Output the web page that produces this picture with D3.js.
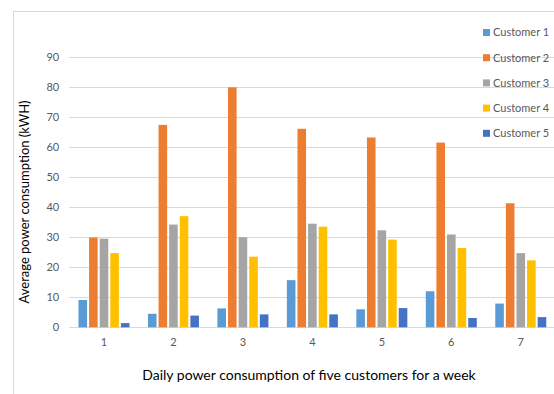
<!DOCTYPE html>
<html>
<head>
<meta charset="utf-8">
<script src="https://cdn.jsdelivr.net/npm/d3@7"></script>
<style>
  html, body { margin: 0; padding: 0; background: #fff; }
  svg { display: block; }
  text { font-family: Lato, "Open Sans", sans-serif; }
</style>
</head>
<body>
<svg id="chart" width="554" height="394"></svg>
<script>
// Days of the week and average daily consumption (kWH) per customer
const days = ["1", "2", "3", "4", "5", "6", "7"];
const customers = ["Customer 1", "Customer 2", "Customer 3", "Customer 4", "Customer 5"];
const customer1 = [9.1, 4.5, 6.3, 15.7, 6.0, 12.0, 7.9];
const customer2 = [29.9, 67.4, 79.9, 66.1, 63.2, 61.5, 41.3];
const customer3 = [29.5, 34.2, 30.0, 34.5, 32.3, 30.9, 24.7];
const customer4 = [24.7, 37.0, 23.5, 33.5, 29.2, 26.4, 22.3];
const customer5 = [1.4, 3.9, 4.3, 4.3, 6.4, 3.1, 3.4];
const yTicks = [0, 10, 20, 30, 40, 50, 60, 70, 80, 90];
const colors = ["#5B9BD5", "#ED7D31", "#A5A5A5", "#FFC000", "#4472C4"];

const series = [customer1, customer2, customer3, customer4, customer5];

const svg = d3.select("#chart");

// chart area frame
svg.append("rect")
  .attr("x", 13.5).attr("y", 11.5)
  .attr("width", 600).attr("height", 450)
  .attr("fill", "#fff").attr("stroke", "#d9d9d9").attr("stroke-width", 1);

const plot = { left: 69.25, right: 555.5, top: 57, bottom: 327.3 };

const x0 = d3.scaleBand().domain(days).range([plot.left, plot.right]).padding(0);
const x1 = d3.scaleBand().domain(customers).range([0, x0.bandwidth()])
  .paddingInner(0.19).paddingOuter(0.87);
const y = d3.scaleLinear().domain([0, 90]).range([plot.bottom, plot.top]);

// horizontal gridlines
svg.append("g").selectAll("line").data(yTicks).join("line")
  .attr("x1", plot.left).attr("x2", plot.right)
  .attr("y1", d => Math.round(y(d)) + 0.5).attr("y2", d => Math.round(y(d)) + 0.5)
  .attr("stroke", "#d9d9d9").attr("stroke-width", 1);

// y axis tick labels
const yAxis = d3.axisLeft(y).tickValues(yTicks).tickSize(0).tickPadding(10);
svg.append("g").attr("transform", `translate(${plot.left},0)`).call(yAxis)
  .call(g => g.select(".domain").remove())
  .call(g => g.selectAll("text").attr("fill", "#595959")
    .style("font-size", "11px").style("font-family", "Lato, 'Open Sans', sans-serif"));

// x axis tick labels
const xAxis = d3.axisBottom(x0).tickSize(0).tickPadding(11);
svg.append("g").attr("transform", `translate(0,${plot.bottom})`).call(xAxis)
  .call(g => g.select(".domain").remove())
  .call(g => g.selectAll("text").attr("fill", "#595959")
    .style("font-size", "11px").style("font-family", "Lato, 'Open Sans', sans-serif"));

// grouped bars
const groups = svg.append("g").selectAll("g").data(days).join("g")
  .attr("transform", d => `translate(${x0(d)},0)`);

groups.selectAll("rect")
  .data((d, i) => customers.map((c, k) => ({ c, k, v: series[k][i] })))
  .join("rect")
  .attr("x", d => x1(d.c))
  .attr("width", x1.bandwidth())
  .attr("y", d => y(d.v))
  .attr("height", d => y(0) - y(d.v))
  .attr("fill", d => colors[d.k]);

// axis titles
svg.append("text")
  .attr("transform", "translate(29,202) rotate(-90)")
  .attr("text-anchor", "middle")
  .attr("fill", "#000")
  .style("font-size", "13px")
  .text("Average power consumption (kWH)");

svg.append("text")
  .attr("x", 309).attr("y", 380)
  .attr("text-anchor", "middle")
  .attr("fill", "#000")
  .style("font-size", "14px")
  .text("Daily power consumption of five customers for a week");

// legend
const legend = svg.append("g").selectAll("g").data(customers).join("g")
  .attr("transform", (d, i) => `translate(483,${32.5 + i * 25.2})`);
legend.append("rect")
  .attr("x", 0).attr("y", -3.5).attr("width", 7).attr("height", 7)
  .attr("fill", (d, i) => colors[i]);
legend.append("text")
  .attr("x", 10).attr("y", 0).attr("dy", "0.35em")
  .attr("fill", "#595959")
  .style("font-size", "11px")
  .text(d => d);
</script>
</body>
</html>
